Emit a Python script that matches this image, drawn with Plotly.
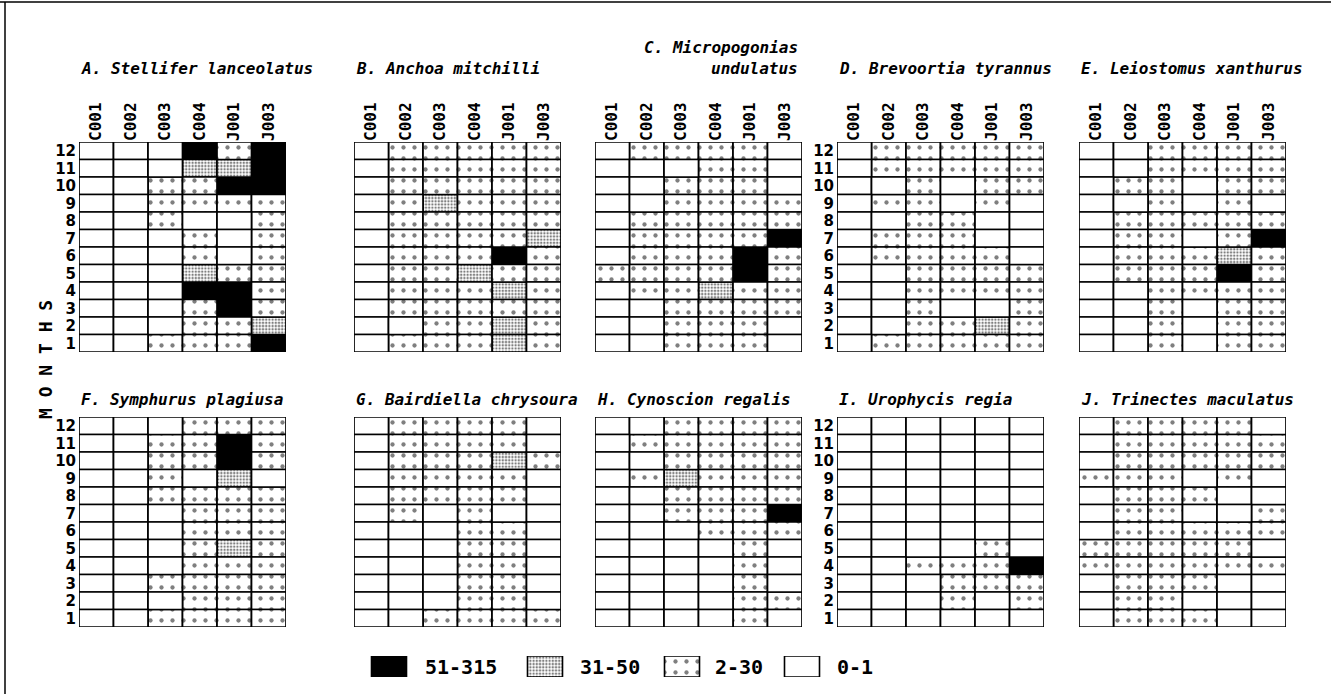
import plotly.graph_objects as go

# ---------------- data ----------------
COLUMNS = ["C001", "C002", "C003", "C004", "J001", "J003"]
MONTH_ROWS = [12, 11, 10, 9, 8, 7, 6, 5, 4, 3, 2, 1]   # row order of every panel array
CATEGORY_LABELS = ["0-1", "2-30", "31-50", "51-315"]   # codes 0..3

# code per cell: 0 = 0-1, 1 = 2-30, 2 = 31-50, 3 = 51-315 ; rows = months 12 -> 1
PANEL_A = [[0,0,0,3,1,3],[0,0,0,2,2,3],[0,0,1,1,3,3],[0,0,1,1,1,1],[0,0,1,0,0,1],[0,0,0,1,0,1],
           [0,0,0,1,0,1],[0,0,0,2,1,1],[0,0,0,3,3,1],[0,0,0,1,3,1],[0,0,0,1,1,2],[0,0,1,1,1,3]]
PANEL_B = [[0,1,1,1,1,1],[0,1,1,1,1,1],[0,1,1,1,1,1],[0,1,2,1,1,1],[0,1,1,1,1,1],[0,1,1,1,1,2],
           [0,1,1,1,3,1],[0,1,1,2,1,1],[0,1,1,1,2,1],[0,1,1,1,1,1],[0,0,1,1,2,1],[0,1,1,1,2,1]]
PANEL_C = [[0,1,1,1,1,0],[0,0,0,1,1,0],[0,0,1,1,1,0],[0,0,1,1,1,1],[0,1,1,1,1,1],[0,1,1,1,1,3],
           [0,1,1,1,3,1],[1,1,1,1,3,1],[0,1,1,2,1,1],[0,0,1,1,1,1],[0,0,1,1,1,0],[0,0,1,1,1,0]]
PANEL_D = [[0,1,1,1,1,1],[0,1,1,1,1,1],[0,0,1,0,1,1],[0,1,1,0,1,0],[0,0,1,1,0,0],[0,1,1,1,0,0],
           [0,1,1,1,1,0],[0,0,1,1,1,1],[0,0,1,1,1,1],[0,0,1,0,0,1],[0,0,1,1,2,1],[0,1,1,1,1,1]]
PANEL_E = [[0,0,1,1,1,1],[0,0,1,1,1,1],[0,1,1,0,1,1],[0,0,1,0,1,0],[0,1,1,1,1,1],[0,1,1,0,1,3],
           [0,1,1,1,2,1],[0,1,1,1,3,1],[0,0,1,1,1,1],[0,0,1,0,1,1],[0,0,1,0,1,1],[0,0,1,0,1,1]]
PANEL_F = [[0,0,0,1,1,1],[0,0,1,1,3,1],[0,0,1,1,3,1],[0,0,1,0,2,0],[0,0,1,1,1,1],[0,0,0,1,1,1],
           [0,0,0,1,1,1],[0,0,0,1,2,1],[0,0,0,1,1,1],[0,0,1,1,1,1],[0,0,0,1,1,1],[0,0,1,1,1,1]]
PANEL_G = [[0,1,1,1,1,0],[0,1,1,1,1,0],[0,1,1,1,2,1],[0,1,1,1,1,0],[0,1,1,1,1,0],[0,1,0,1,0,0],
           [0,0,0,1,1,0],[0,0,0,1,1,0],[0,0,0,1,1,0],[0,0,0,1,1,0],[0,0,0,1,1,0],[0,0,1,1,1,1]]
PANEL_H = [[0,0,1,1,1,1],[0,1,1,1,1,1],[0,0,1,1,1,1],[0,1,2,1,1,1],[0,0,1,1,1,1],[0,0,1,1,1,3],
           [0,0,0,1,1,1],[0,0,0,0,1,0],[0,0,0,0,1,0],[0,0,0,0,1,0],[0,0,0,0,1,1],[0,0,0,0,1,0]]
PANEL_I = [[0,0,0,0,0,0],[0,0,0,0,0,0],[0,0,0,0,0,0],[0,0,0,0,0,0],[0,0,0,0,0,0],[0,0,0,0,0,0],
           [0,0,0,0,0,0],[0,0,0,0,1,0],[0,0,1,1,1,3],[0,0,0,1,1,1],[0,0,0,1,0,1],[0,0,0,0,0,0]]
PANEL_J = [[0,1,1,1,1,0],[0,1,1,1,1,1],[0,1,1,1,1,1],[1,1,1,0,1,0],[0,1,1,1,0,0],[0,1,1,0,0,1],
           [0,1,1,1,1,1],[1,1,1,1,1,0],[1,1,1,1,1,1],[0,1,1,1,0,0],[0,1,1,0,0,0],[0,1,1,1,0,0]]

TITLES = ["A. Stellifer lanceolatus", "B. Anchoa mitchilli", "C. Micropogonias<br>undulatus",
          "D. Brevoortia tyrannus", "E. Leiostomus xanthurus", "F. Symphurus plagiusa",
          "G. Bairdiella chrysoura", "H. Cynoscion regalis", "I. Urophycis regia",
          "J. Trinectes maculatus"]
PANELS = [PANEL_A, PANEL_B, PANEL_C, PANEL_D, PANEL_E, PANEL_F, PANEL_G, PANEL_H, PANEL_I, PANEL_J]

# ---------------- layout geometry (pixels) ----------------
W, H = 1331, 694
PANEL_LEFT = [79, 354, 595, 837, 1079]
PANEL_W = 207
ROW_TOP = [142, 417]
PANEL_HT = 210
ROWLABEL_PANELS = {0, 3, 5, 8}

MONO = "DejaVu Sans Mono"
SANS = "DejaVu Sans"

def fx(px):
    return px / W

def fy(py):
    return 1 - py / H

STYLE = {
    0: dict(color="white"),
    1: dict(color="white", pattern=dict(shape=".", fgcolor="black", bgcolor="white",
                                         size=11, solidity=0.12)),
    2: dict(color="white", pattern=dict(shape=".", fgcolor="black", bgcolor="white",
                                         size=3.2, solidity=0.45)),
    3: dict(color="black"),
}

fig = go.Figure()
layout_axes = {}
annotations = []

for k, (data, title) in enumerate(zip(PANELS, TITLES)):
    idx = k + 1
    col, row = k % 5, k // 5
    x0 = PANEL_LEFT[col]
    y0 = ROW_TOP[row]
    xa = f"x{idx}" if idx > 1 else "x"
    ya = f"y{idx}" if idx > 1 else "y"
    for code in [3, 2, 1, 0]:
        xs, bases = [], []
        for r, month in enumerate(MONTH_ROWS):
            for c, name in enumerate(COLUMNS):
                if data[r][c] == code:
                    xs.append(name)
                    bases.append(month - 0.5)
        if not xs:
            continue
        fig.add_trace(go.Bar(
            x=xs, y=[1] * len(xs), base=bases, width=1,
            xaxis=xa, yaxis=ya, showlegend=False, hoverinfo="skip",
            marker=dict(line=dict(color="black", width=1.7), **STYLE[code]),
        ))
    xkey = "xaxis" if idx == 1 else f"xaxis{idx}"
    ykey = "yaxis" if idx == 1 else f"yaxis{idx}"
    layout_axes[xkey] = dict(
        domain=[fx(x0), fx(x0 + PANEL_W)], anchor=ya, type="category",
        categoryorder="array", categoryarray=COLUMNS, range=[-0.5, 5.5],
        side="top", showticklabels=(row == 0), tickangle=-90, ticks="",
        showgrid=False, zeroline=False, showline=False,
        tickfont=dict(family=MONO, size=16, color="black", weight="bold"), fixedrange=True,
    )
    layout_axes[ykey] = dict(
        domain=[fy(y0 + PANEL_HT), fy(y0)], anchor=xa, range=[0.5, 12.5],
        tickvals=MONTH_ROWS, ticktext=[str(m) for m in MONTH_ROWS],
        showticklabels=(k in ROWLABEL_PANELS), ticks="", showgrid=False,
        zeroline=False, showline=False, ticklabelstandoff=2,
        tickfont=dict(family=SANS, size=15, color="black", weight="bold"), fixedrange=True,
    )
    tfont = dict(family=MONO, size=16, color="black", style="italic", weight="bold")
    if "<br>" in title:
        l1, l2 = title.split("<br>")
        annotations.append(dict(text=l1, xref="paper", yref="paper", x=fx(x0 + PANEL_W - 2),
                                y=fy(48), xanchor="right", yanchor="middle", showarrow=False,
                                font=tfont))
        annotations.append(dict(text=l2, xref="paper", yref="paper", x=fx(x0 + PANEL_W - 2),
                                y=fy(69), xanchor="right", yanchor="middle", showarrow=False,
                                font=tfont))
    else:
        ty = 69 if row == 0 else 399
        annotations.append(dict(text=title, xref="paper", yref="paper", x=fx(x0),
                                y=fy(ty), xanchor="left", yanchor="middle", showarrow=False,
                                font=tfont))

# ---------------- legend (custom swatches) ----------------
LEGEND_ORDER = [3, 2, 1, 0]
LEG_SWATCH_X = [389, 545, 682, 802]
LEG_TEXT_X = [423, 578, 713, 835]
leg_idx = 11
for code, sx in zip(LEGEND_ORDER, LEG_SWATCH_X):
    fig.add_trace(go.Bar(
        x=[sx], y=[1], base=[0], width=[35], xaxis=f"x{leg_idx}", yaxis=f"y{leg_idx}",
        showlegend=False, hoverinfo="skip",
        marker=dict(line=dict(color="black", width=1.6), **STYLE[code]),
    ))
for code, tx in zip(LEGEND_ORDER, LEG_TEXT_X):
    annotations.append(dict(text=CATEGORY_LABELS[code], xref=f"x{leg_idx}", yref=f"y{leg_idx}",
                            x=tx, y=0.5, xanchor="left", yanchor="middle", showarrow=False,
                            font=dict(family=MONO, size=20, color="black", weight="bold")))
layout_axes[f"xaxis{leg_idx}"] = dict(domain=[fx(340), fx(900)], range=[340, 900], visible=False,
                                      anchor=f"y{leg_idx}", fixedrange=True)
layout_axes[f"yaxis{leg_idx}"] = dict(domain=[fy(677), fy(656)], range=[0, 1], visible=False,
                                      anchor=f"x{leg_idx}", fixedrange=True)

# MONTHS label
annotations.append(dict(text="M O N T H S", xref="paper", yref="paper", x=fx(45), y=fy(360),
                        textangle=-90, showarrow=False, xanchor="center", yanchor="middle",
                        font=dict(family=MONO, size=18, color="black", weight="bold")))

shapes = [
    dict(type="line", xref="paper", yref="paper", x0=0, x1=1, y0=fy(2), y1=fy(2),
         line=dict(color="black", width=1.5)),
    dict(type="line", xref="paper", yref="paper", x0=fx(5), x1=fx(5), y0=fy(2), y1=0,
         line=dict(color="black", width=1.5)),
]

fig.update_layout(
    width=W, height=H, margin=dict(l=0, r=0, t=0, b=0),
    paper_bgcolor="white", plot_bgcolor="white", barmode="overlay",
    annotations=annotations, shapes=shapes, showlegend=False, **layout_axes,
)

fig.write_html("out.html", config={"displayModeBar": False},
               post_script="document.body.style.margin='0';")
